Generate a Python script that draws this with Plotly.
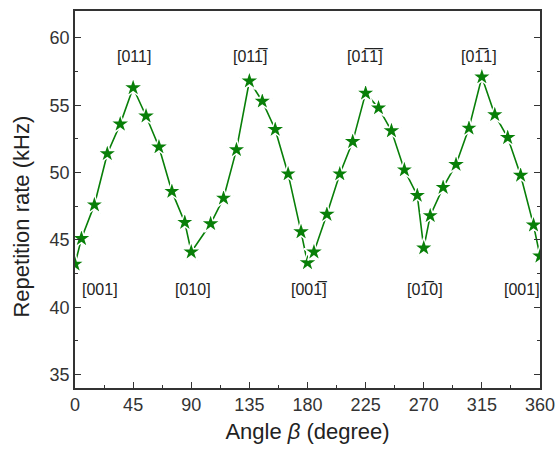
import plotly.graph_objects as go

angles = [0, 5, 15, 25, 35, 45, 55, 65, 75, 85, 90, 105, 115, 125, 135, 145, 155, 165, 175, 180,
          185, 195, 205, 215, 225, 235, 245, 255, 265, 270, 275, 285, 295, 305, 315, 325, 335, 345, 355, 360]
rate = [43.2, 45.1, 47.6, 51.4, 53.6, 56.3, 54.2, 51.9, 48.6, 46.3, 44.1, 46.2, 48.1, 51.7, 56.8, 55.3, 53.2, 49.9, 45.6, 43.3,
        44.1, 46.9, 49.9, 52.3, 55.9, 54.8, 53.1, 50.2, 48.3, 44.4, 46.8, 48.9, 50.6, 53.3, 57.1, 54.3, 52.6, 49.8, 46.1, 43.8]

OB = "\u0305"
label_text = ["[001]", "[011]", "[010]", "[01" + "1" + OB + "]", "[00" + "1" + OB + "]",
              "[0" + "1" + OB + "1" + OB + "]", "[0" + "1" + OB + "0]", "[0" + "1" + OB + "1]", "[001]"]
label_x = [19.5, 46, 91.5, 135.5, 181, 224.5, 271, 313, 346]
label_y = [41.3, 58.6, 41.3, 58.6, 41.3, 58.6, 41.3, 58.6, 41.3]

FONT = "Liberation Sans, Arial"

fig = go.Figure()
fig.add_trace(go.Scatter(
    x=angles, y=rate, mode="lines+markers",
    line=dict(color="#087f08", width=1.6),
    marker=dict(symbol="star", size=15, color="#087f08", line=dict(color="white", width=1.5)),
    cliponaxis=True, showlegend=False,
))

for t, x, y in zip(label_text, label_x, label_y):
    fig.add_annotation(x=x, y=y, text=t, showarrow=False, xref="x", yref="y",
                       font=dict(family=FONT, size=16, color="#222"))

fig.add_annotation(x=-0.116, y=0.455, xref="paper", yref="paper", xanchor="center", yanchor="middle",
                   text="Repetition rate (kHz)", textangle=-90, showarrow=False,
                   font=dict(family=FONT, size=22, color="#222"))

axis_common = dict(showgrid=False, zeroline=False, showline=True, linecolor="#333", linewidth=1.5,
                   ticks="inside", ticklen=6, tickwidth=1.2, tickcolor="#333", automargin=False,
                   tickfont=dict(family=FONT, size=18, color="#333"))

fig.update_xaxes(range=[0, 360], tick0=0, dtick=45, mirror=True, ticklabeloverflow="allow",
                 minor=dict(ticks="inside", ticklen=3, dtick=22.5, tickcolor="#333"),
                 title=dict(text="Angle <i>β</i> (degree)", standoff=9,
                            font=dict(family=FONT, size=22, color="#222")),
                 **axis_common)
fig.update_yaxes(range=[34, 62], tick0=35, dtick=5, mirror="allticks",
                 minor=dict(ticks="inside", ticklen=3, dtick=2.5, tick0=35, tickcolor="#333"),
                 **axis_common)

fig.update_layout(width=555, height=452, margin=dict(l=75, r=15, t=11, b=64),
                  plot_bgcolor="white", paper_bgcolor="white",
                  font=dict(family=FONT))

fig.write_html("out.html")
